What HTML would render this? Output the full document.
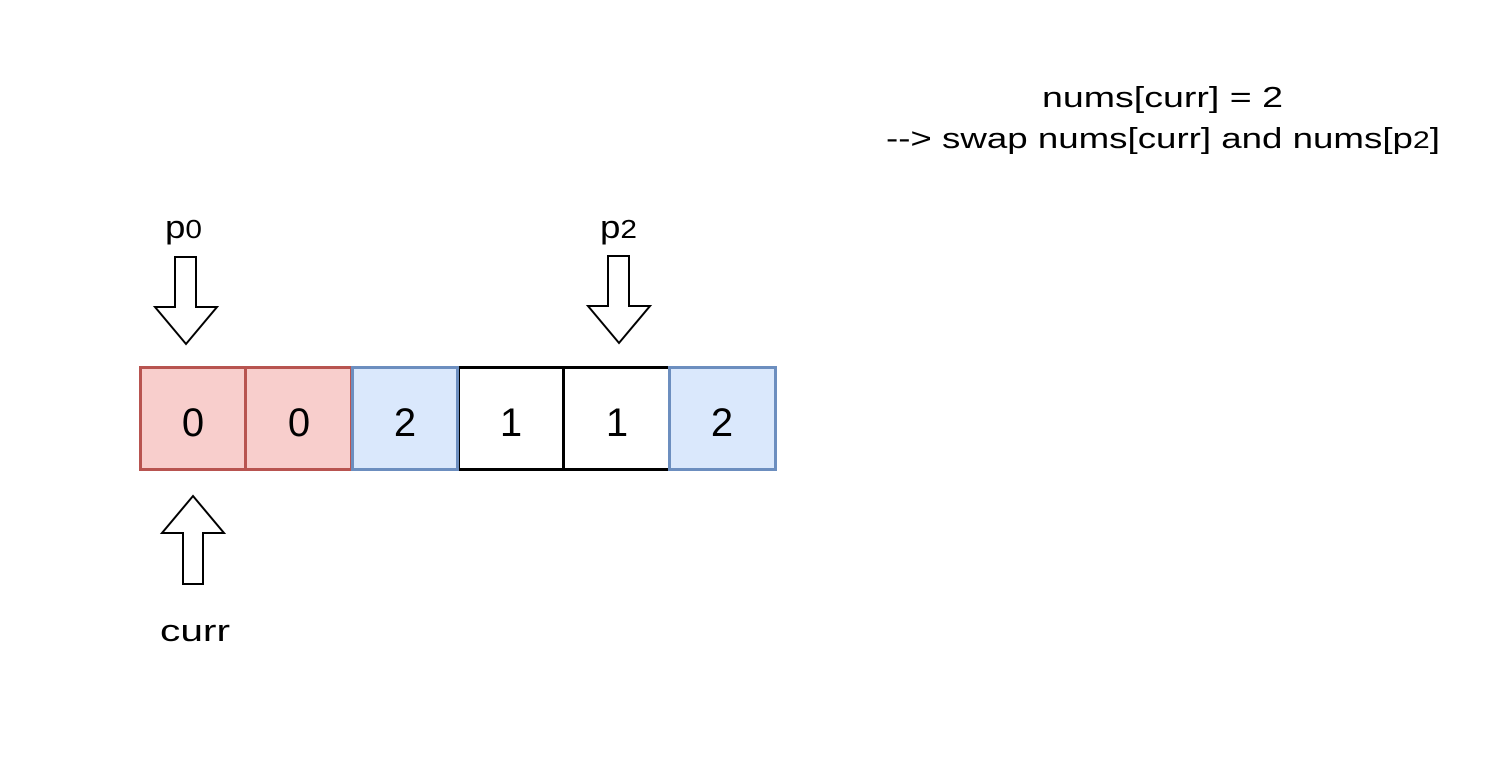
<!DOCTYPE html>
<html><head><style>
body{margin:0;width:1492px;height:762px;background:#fff;overflow:hidden}
svg{display:block}
text{font-family:"Liberation Sans",sans-serif;fill:#000}
</style></head><body>
<svg width="1492" height="762" xmlns="http://www.w3.org/2000/svg">
<g stroke-width="3">
<rect x="140.5" y="367.5" width="105" height="102" fill="#f8cecc" stroke="#b85450"/>
<rect x="245.5" y="367.5" width="106" height="102" fill="#f8cecc" stroke="#b85450"/>
<rect x="458.5" y="367.5" width="105" height="102" fill="#fff" stroke="#000"/>
<rect x="563.5" y="367.5" width="106" height="102" fill="#fff" stroke="#000"/>
<rect x="352.5" y="367.5" width="105" height="102" fill="#dae8fc" stroke="#6c8ebf"/>
<rect x="669.5" y="367.5" width="106" height="102" fill="#dae8fc" stroke="#6c8ebf"/>
</g>
<g font-size="40" text-anchor="middle">
<text x="193" y="436">0</text><text x="299" y="436">0</text><text x="405" y="436">2</text>
<text x="511" y="436">1</text><text x="617" y="436">1</text><text x="722" y="436">2</text>
</g>
<g fill="#fff" stroke="#000" stroke-width="2">
<polygon points="175,257 196,257 196,307 217,307 186,344 155,307 175,307"/>
<polygon points="608,256 629,256 629,306 650,306 619,343 588,306 608,306"/>
<polygon points="193,496 224,533 203,533 203,584 183,584 183,533 162,533"/>
</g>
<text x="165" y="238" font-size="32" textLength="37" lengthAdjust="spacingAndGlyphs">p<tspan font-size="26">0</tspan></text>
<text x="600" y="238" font-size="32" textLength="37" lengthAdjust="spacingAndGlyphs">p<tspan font-size="26">2</tspan></text>
<text x="160" y="641" font-size="31" textLength="70" lengthAdjust="spacingAndGlyphs">curr</text>
<text x="1042" y="107" font-size="29" textLength="241" lengthAdjust="spacingAndGlyphs">nums[curr] = 2</text>
<text x="886" y="148" font-size="29" textLength="554" lengthAdjust="spacingAndGlyphs">--&gt; swap nums[curr] and nums[p<tspan font-size="24">2</tspan>]</text>
</svg>
</body></html>
